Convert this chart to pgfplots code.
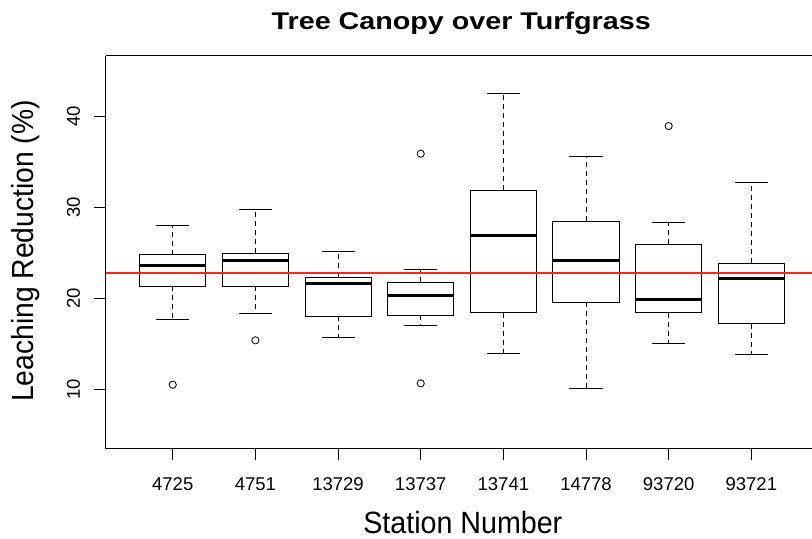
\documentclass[border=0pt]{standalone}
\usepackage{pgfplots}
\pgfplotsset{compat=1.18}
\usepackage{fontspec}
\setmainfont{Liberation Sans}
\definecolor{rline}{RGB}{250,40,20}
\begin{document}
\begin{tikzpicture}
\begin{axis}[
  at={(105.7bp,90.3bp)}, anchor=south west,
  scale only axis, width=706.3bp, height=393bp,
  xmin=0.189, xmax=8.734, ymin=3.44, ymax=46.63,
  axis x line*=box, axis y line*=left,
  axis line style={black, line width=0.9bp},
  xtick={1,2,3,4,5,6,7,8},
  xticklabels={4725,4751,13729,13737,13741,14778,93720,93721},
  ytick={10,20,30,40},
  xtick pos=left, ytick pos=left,
  tick align=outside, major tick length=11.7bp,
  tick style={black, line width=0.9bp},
  /pgf/number format/assume math mode=true,
  tick label style={font=\fontsize{18.5bp}{20bp}\selectfont, inner sep=0pt, text=black},
  xticklabel style={anchor=north, text height=13.3bp, text depth=0pt},
  yticklabel style={rotate=90, anchor=south, text depth=0pt},
  xticklabel shift=16.9bp, yticklabel shift=14bp,
  unbounded coords=jump,
]
% boxes (lower quartile to upper quartile), width 0.8
\addplot[black, line width=0.95bp, line cap=rect, line join=miter, mark=none] coordinates {
  (0.6,21.28) (1.4,21.28) (1.4,24.76) (0.6,24.76) (0.6,21.28) (nan,nan)
  (1.6,21.28) (2.4,21.28) (2.4,24.91) (1.6,24.91) (1.6,21.28) (nan,nan)
  (2.6,18.02) (3.4,18.02) (3.4,22.27) (2.6,22.27) (2.6,18.02) (nan,nan)
  (3.6,18.13) (4.4,18.13) (4.4,21.73) (3.6,21.73) (3.6,18.13) (nan,nan)
  (4.6,18.39) (5.4,18.39) (5.4,31.87) (4.6,31.87) (4.6,18.39) (nan,nan)
  (5.6,19.56) (6.4,19.56) (6.4,28.46) (5.6,28.46) (5.6,19.56) (nan,nan)
  (6.6,18.39) (7.4,18.39) (7.4,25.93) (6.6,25.93) (6.6,18.39) (nan,nan)
  (7.6,17.18) (8.4,17.18) (8.4,23.81) (7.6,23.81) (7.6,17.18)
};
% medians
\addplot[black, line width=3bp, mark=none] coordinates {
  (0.6,23.55) (1.4,23.55) (nan,nan)
  (1.6,24.10) (2.4,24.10) (nan,nan)
  (2.6,21.57) (3.4,21.57) (nan,nan)
  (3.6,20.26) (4.4,20.26) (nan,nan)
  (4.6,26.89) (5.4,26.89) (nan,nan)
  (5.6,24.10) (6.4,24.10) (nan,nan)
  (6.6,19.85) (7.4,19.85) (nan,nan)
  (7.6,22.12) (8.4,22.12)
};
% whiskers (dashed)
\addplot[black, line width=1bp, dash pattern=on 5bp off 4bp, mark=none] coordinates {
  (1,24.76) (1,27.94) (nan,nan) (1,21.28) (1,17.62) (nan,nan)
  (2,24.91) (2,29.78) (nan,nan) (2,21.28) (2,18.28) (nan,nan)
  (3,22.27) (3,25.16) (nan,nan) (3,18.02) (3,15.64) (nan,nan)
  (4,21.73) (4,23.19) (nan,nan) (4,18.13) (4,16.96) (nan,nan)
  (5,31.87) (5,42.49) (nan,nan) (5,18.39) (5,13.88) (nan,nan)
  (6,28.46) (6,35.60) (nan,nan) (6,19.56) (6,10.03) (nan,nan)
  (7,25.93) (7,28.32) (nan,nan) (7,18.39) (7,14.95) (nan,nan)
  (8,23.81) (8,32.67) (nan,nan) (8,17.18) (8,13.77)
};
% whisker caps (solid), width 0.4
\addplot[black, line width=0.95bp, mark=none] coordinates {
  (0.8,27.94) (1.2,27.94) (nan,nan) (0.8,17.62) (1.2,17.62) (nan,nan)
  (1.8,29.78) (2.2,29.78) (nan,nan) (1.8,18.28) (2.2,18.28) (nan,nan)
  (2.8,25.16) (3.2,25.16) (nan,nan) (2.8,15.64) (3.2,15.64) (nan,nan)
  (3.8,23.19) (4.2,23.19) (nan,nan) (3.8,16.96) (4.2,16.96) (nan,nan)
  (4.8,42.49) (5.2,42.49) (nan,nan) (4.8,13.88) (5.2,13.88) (nan,nan)
  (5.8,35.60) (6.2,35.60) (nan,nan) (5.8,10.03) (6.2,10.03) (nan,nan)
  (6.8,28.32) (7.2,28.32) (nan,nan) (6.8,14.95) (7.2,14.95) (nan,nan)
  (7.8,32.67) (8.2,32.67) (nan,nan) (7.8,13.77) (8.2,13.77)
};
% outliers
\addplot[black, only marks, mark=o, mark size=3.6bp, mark options={line width=0.85bp}] coordinates {
  (1,10.47) (2,15.35) (4,35.86) (4,10.62) (7,38.90)
};
% reference line
\addplot[rline, line width=2bp, mark=none] coordinates {(0.189,22.71) (8.734,22.71)};
\end{axis}
\node[anchor=base, inner sep=0pt] at (461.2bp,509bp)
  {\resizebox{379bp}{17.5bp}{\bfseries Tree Canopy over Turfgrass}};
\node[anchor=base, inner sep=0pt] at (462.8bp,5.2bp)
  {\resizebox{199bp}{22.3bp}{Station Number}};
\node[rotate=90, anchor=base, inner sep=0pt] at (33.3bp,288.1bp)
  {\resizebox{301.7bp}{22.1bp}{Leaching Reduction (\%)}};
\pgfresetboundingbox
\path[use as bounding box] (0,0) rectangle (812bp,539bp);
\end{tikzpicture}
\end{document}
